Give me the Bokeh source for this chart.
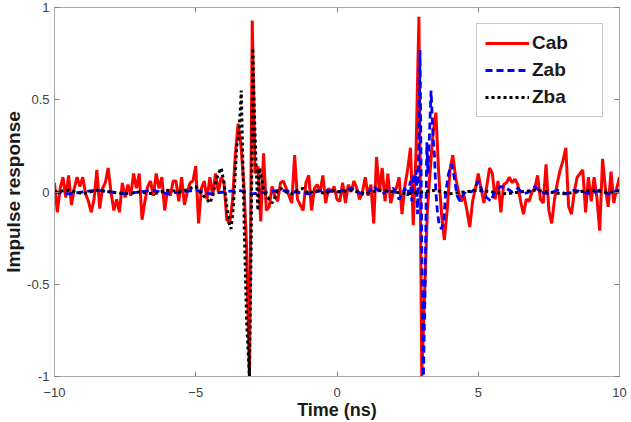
import numpy as np
from bokeh.plotting import figure
from bokeh.models import LinearAxis, Range1d, FixedTicker
from bokeh.embed import file_html
from bokeh.resources import INLINE

# ---------------- data ----------------
x_ticks = [-10, -5, 0, 5, 10]
y_ticks = [-1.0, -0.5, 0.0, 0.5, 1.0]
y_tick_labels = ["-1", "-0.5", "0", "0.5", "1"]

# Cab sampled every 0.1 ns from -10 to 10
cab_t = np.round(np.arange(-100, 101) / 10.0, 1)
cab = [
    0.05, -0.11, 0.02, 0.08, -0.03, 0.09, -0.07, 0.02, 0.08, 0.03,
    0.08, -0.01, -0.05, -0.11, -0.04, 0.12, -0.09, 0.02, 0.05, 0.13,
    0.00, -0.10, -0.04, -0.11, 0.05, -0.03, 0.04, -0.02, 0.10, 0.02,
    0.10, -0.15, -0.05, 0.03, 0.06, -0.02, 0.10, 0.02, 0.08, -0.10,
    0.01, -0.02, 0.06, 0.06, -0.05, 0.08, -0.07, 0.00, 0.05, 0.06,
    0.14, -0.17, 0.02, 0.06, -0.04, 0.08, -0.02, 0.10, 0.00, 0.08,
    0.05, -0.15, -0.17, -0.05, 0.20, 0.37, 0.25, 0.05, -0.30, -1.00,
    0.93, 0.10, 0.14, -0.16, 0.21, -0.10, -0.08, 0.03, -0.02, -0.05,
    0.05, 0.06, 0.02, -0.02, -0.06, 0.20, -0.04, -0.07, -0.10, 0.05,
    0.09, -0.10, 0.02, 0.04, 0.00, 0.09, -0.06, 0.02, 0.00, 0.03,
    -0.04, -0.05, 0.05, -0.06, 0.04, 0.00, 0.06, 0.02, -0.04, 0.00,
    0.08, -0.02, 0.04, -0.17, 0.19, 0.00, 0.13, -0.05, 0.10, -0.06,
    0.00, 0.02, 0.08, -0.12, 0.03, 0.12, 0.24, -0.18, 0.23, 0.95,
    -1.00, -0.55, -0.10, 0.12, 0.32, 0.43, 0.10, -0.12, -0.26, -0.10,
    0.12, 0.20, 0.08, 0.00, -0.05, -0.02, -0.10, -0.19, -0.05, 0.02,
    0.10, 0.02, -0.06, 0.03, 0.13, 0.10, -0.04, 0.06, -0.11, 0.04,
    0.05, 0.08, 0.05, 0.07, 0.04, -0.05, -0.12, -0.04, -0.05, 0.00,
    0.02, 0.09, -0.04, -0.06, 0.15, -0.10, -0.17, -0.04, 0.05, 0.12,
    0.17, 0.24, -0.08, -0.12, 0.00, 0.08, 0.10, 0.12, -0.11, 0.08,
    -0.05, 0.08, -0.03, -0.21, 0.18, 0.02, -0.08, 0.11, -0.06, 0.02, 0.08,
]

zab_t = [-10, -9.5, -9, -8.5, -8, -7.5, -7, -6.5, -6, -5.5, -5, -4.5, -4, -3.5,
         -3, -2.5, -2, -1.5, -1, -0.5, 0, 0.5, 1.0, 1.3, 1.6, 2.0, 2.2, 2.4,
         2.5, 2.6, 2.65, 2.7, 2.75, 2.8, 2.85, 2.9, 2.94, 3.0, 3.06, 3.12,
         3.18, 3.22, 3.27, 3.33, 3.4, 3.45, 3.5, 3.55, 3.62, 3.7, 3.78, 3.85,
         3.95, 4.05, 4.15, 4.25, 4.35, 4.45, 4.6, 4.75, 4.9, 5.0, 5.15, 5.3,
         5.45, 5.6, 5.8, 6.0, 6.2, 6.4, 6.6, 6.8, 7.0, 7.2, 7.5, 7.8, 8.1,
         8.4, 8.7, 9.0, 9.3, 9.6, 10.0]
zab = [0.0, -0.01, 0.0, 0.01, 0.0, -0.01, 0.0, 0.01, -0.01, 0.0, 0.01, -0.01, 0.0, 0.01,
       -0.01, 0.0, 0.01, 0.0, -0.01, 0.01, 0.0, 0.02, -0.02, 0.03, -0.01, 0.02, -0.04, 0.02,
       -0.02, 0.06, -0.05, 0.10, 0.04, 0.12, -0.12, 0.30, 0.77, -0.30, -1.00, -0.50,
       0.27, 0.10, 0.30, 0.55, 0.30, 0.20, 0.00, -0.10, -0.18, -0.20, -0.15, 0.00,
       0.10, 0.15, 0.08, -0.02, -0.05, -0.02, 0.01, 0.00, 0.02, 0.06, 0.00, -0.03,
       -0.05, 0.01, 0.03, 0.02, 0.00, 0.02, -0.01, 0.00, 0.03, 0.00, -0.01, 0.01, -0.01,
       0.01, 0.00, -0.01, 0.01, -0.01, 0.01]

zba_t = [-10, -9.5, -9, -8.5, -8, -7.5, -7, -6.5, -6, -5.5, -5.2, -5.0, -4.8, -4.6,
         -4.5, -4.4, -4.3, -4.2, -4.1, -4.0, -3.9, -3.82, -3.75, -3.68, -3.6, -3.55,
         -3.48, -3.42, -3.39, -3.34, -3.28, -3.2, -3.1, -3.04, -2.98, -2.92, -2.86,
         -2.8, -2.74, -2.68, -2.6, -2.5, -2.4, -2.3, -2.2, -2.1, -2.0, -1.8, -1.6,
         -1.4, -1.2, -1.0, -0.8, -0.6, -0.4, -0.2, 0.0, 0.5, 1.0, 1.5, 2.0, 2.5,
         3.0, 3.5, 4.0, 4.5, 5.0, 5.5, 6.0, 6.5, 7.0, 7.5, 8.0, 8.5, 9.0, 9.5, 10.0]
zba = [0.0, 0.01, -0.01, 0.01, 0.0, -0.01, 0.0, -0.01, 0.01, 0.0, 0.02, 0.03, -0.01, -0.04,
       -0.06, -0.02, 0.05, 0.10, 0.13, 0.05, -0.08, -0.17, -0.20, -0.10, 0.10, 0.25,
       0.30, 0.45, 0.55, 0.20, -0.20, -0.70, -1.00, -0.30, 0.78, 0.40, 0.13,
       -0.10, 0.13, 0.08, 0.02, -0.02, -0.04, -0.06, -0.03, 0.01, 0.02, 0.0, -0.01,
       0.01, 0.02, -0.01, 0.01, 0.0, -0.01, 0.01, 0.0, 0.01, -0.01, 0.01, 0.0, -0.01,
       0.0, 0.01, -0.01, 0.0, 0.01, 0.0, -0.01, 0.0, 0.01, 0.0, -0.01, 0.0, 0.01, 0.0, 0.0]

# ---------------- figure ----------------
p = figure(width=631, height=422, x_range=Range1d(-10, 10), y_range=Range1d(-1, 1),
           output_backend="svg", toolbar_location=None,
           min_border_left=50, min_border_right=12, min_border_top=7, min_border_bottom=44)
p.grid.visible = False
p.outline_line_color = None
p.background_fill_color = "white"
p.border_fill_color = "white"

p.line(cab_t, cab, line_color="#ff0000", line_width=3, legend_label="Cab")
p.line(zab_t, zab, line_color="#0000ff", line_width=2.8, line_dash="7 4", legend_label="Zab")
p.line(zba_t, zba, line_color="#000000", line_width=3, line_dash="3 3", legend_label="Zba")

axis_col = "#a8a8a8"
label_col = "#404040"
font = "Liberation Sans"

# mirrored tick axes (box), no labels
top_ax = LinearAxis(ticker=FixedTicker(ticks=x_ticks))
right_ax = LinearAxis(ticker=FixedTicker(ticks=y_ticks))
p.add_layout(top_ax, "above")
p.add_layout(right_ax, "right")

for ax in p.xaxis:
    ax.ticker = FixedTicker(ticks=x_ticks)
for ax in p.yaxis:
    ax.ticker = FixedTicker(ticks=y_ticks)
    ax.major_label_overrides = {t: s for t, s in zip(y_ticks, y_tick_labels)}

for ax in p.axis:
    ax.axis_line_color = axis_col
    ax.axis_line_width = 1
    ax.major_tick_line_color = "#808080"
    ax.major_tick_in = 5
    ax.major_tick_out = 0
    ax.minor_tick_line_color = None
    ax.major_label_text_font = font
    ax.major_label_text_font_size = "13px"
    ax.major_label_text_color = label_col

for ax in (top_ax, right_ax):
    ax.major_label_text_color = None
    ax.major_label_text_font_size = "1px"
    ax.major_label_standoff = 0

bx = p.below[0]
bx.axis_label = "Time (ns)"
bx.axis_label_text_font = font
bx.axis_label_text_font_style = "bold"
bx.axis_label_text_font_size = "18px"
bx.axis_label_text_color = "#1a1a1a"
bx.major_label_standoff = 11
bx.axis_label_standoff = 0

ly = p.left[0]
ly.axis_label = "Impulse response"
ly.axis_label_text_font = font
ly.axis_label_text_font_style = "bold"
ly.axis_label_text_font_size = "19px"
ly.axis_label_text_color = "#1a1a1a"
ly.major_label_standoff = 5
ly.axis_label_standoff = 0

lg = p.legend[0]
lg.location = "top_right"
lg.margin = 16
lg.padding = 8
lg.spacing = 5
lg.glyph_width = 44
lg.glyph_height = 20
lg.label_height = 20
lg.label_width = 62
lg.label_standoff = 3
lg.label_text_font = font
lg.label_text_font_style = "bold"
lg.label_text_font_size = "19px"
lg.label_text_color = "#1a1a1a"
lg.border_line_color = "#909090"
lg.border_line_width = 1
lg.background_fill_color = "white"
lg.background_fill_alpha = 1.0

open("out.html", "w").write(file_html(p, INLINE))
